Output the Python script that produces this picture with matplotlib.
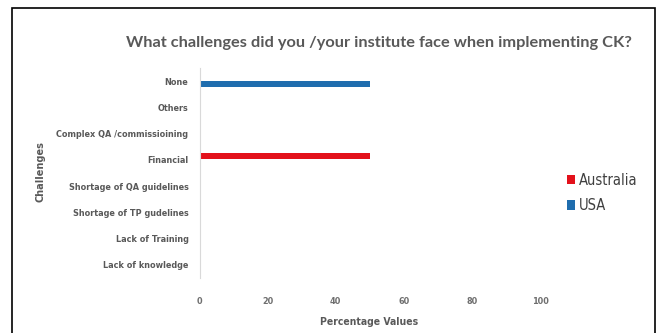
import matplotlib
matplotlib.use("Agg")
import matplotlib.pyplot as plt
import numpy as np
from matplotlib.patches import Rectangle

categories = ["Lack of knowledge", "Lack of Training", "Shortage of TP gudelines",
              "Shortage of QA guidelines", "Financial", "Complex QA /commissioining",
              "Others", "None"]
australia = [0, 0, 0, 0, 50, 0, 0, 0]
usa = [0, 0, 0, 0, 0, 0, 0, 50]
xticks = [0, 20, 40, 60, 80, 100]
series_names = ["Australia", "USA"]
colors = ["#E3111B", "#1F6DAE"]

gray = "#595959"
fam = "DejaVu Sans"
st = "condensed"

fig = plt.figure(figsize=(6.59, 3.33), dpi=100)
fig.patches.append(Rectangle((12 / 659, -0.05), (655 - 12) / 659, 1 - 8 / 333 + 0.05,
                             transform=fig.transFigure, fill=False, edgecolor="black",
                             linewidth=1.2))

ax = fig.add_axes([199.5 / 659, 1 - 278 / 333, (540 - 199.5) / 659, 210 / 333])
y = np.arange(len(categories))
h = 0.23
ax.barh(y + 0.14, australia, height=h, color=colors[0], label=series_names[0])
ax.barh(y - 0.12, usa, height=h, color=colors[1], label=series_names[1])

ax.set_xlim(0, 100)
ax.set_ylim(-0.5, len(categories) - 0.5)
ax.set_yticks(y)
ax.set_yticklabels(categories, fontsize=6.5, color=gray, family=fam, fontstretch=st,
                   fontweight="bold")
ax.set_xticks(xticks)
ax.set_xticklabels([str(v) for v in xticks], fontsize=6.5, color="#6F6F6F", family=fam,
                   fontstretch=st, fontweight="bold")
ax.tick_params(axis="both", length=0)
ax.tick_params(axis="y", pad=8)
ax.tick_params(axis="x", pad=14)
for s in ["top", "right", "bottom"]:
    ax.spines[s].set_visible(False)
ax.spines["left"].set_color("#D9D9D9")

fig.text(379 / 659, 1 - 43 / 333,
         "What challenges did you /your institute face when implementing CK?",
         ha="center", va="center", fontsize=11.8, color=gray, family="Lato",
         fontweight="bold")
fig.text(369 / 659, 1 - 322 / 333, "Percentage Values", ha="center", va="center",
         fontsize=7.5, color=gray, family=fam, fontstretch=st, fontweight="bold")
fig.text(40 / 659, 1 - 172 / 333, "Challenges", ha="center", va="center", rotation=90,
         fontsize=7.8, color=gray, family=fam, fontstretch=st, fontweight="bold")

handles, labels = ax.get_legend_handles_labels()
leg = fig.legend(handles, labels, loc="center left", bbox_to_anchor=(554 / 659, 1 - 193 / 333),
                 frameon=False, handlelength=0.55, handleheight=0.6, handletextpad=0.25,
                 labelspacing=0.7, prop={"family": fam, "stretch": st, "size": 10.5})
for t in leg.get_texts():
    t.set_color("#404040")

fig.savefig("out.png", dpi=100)
